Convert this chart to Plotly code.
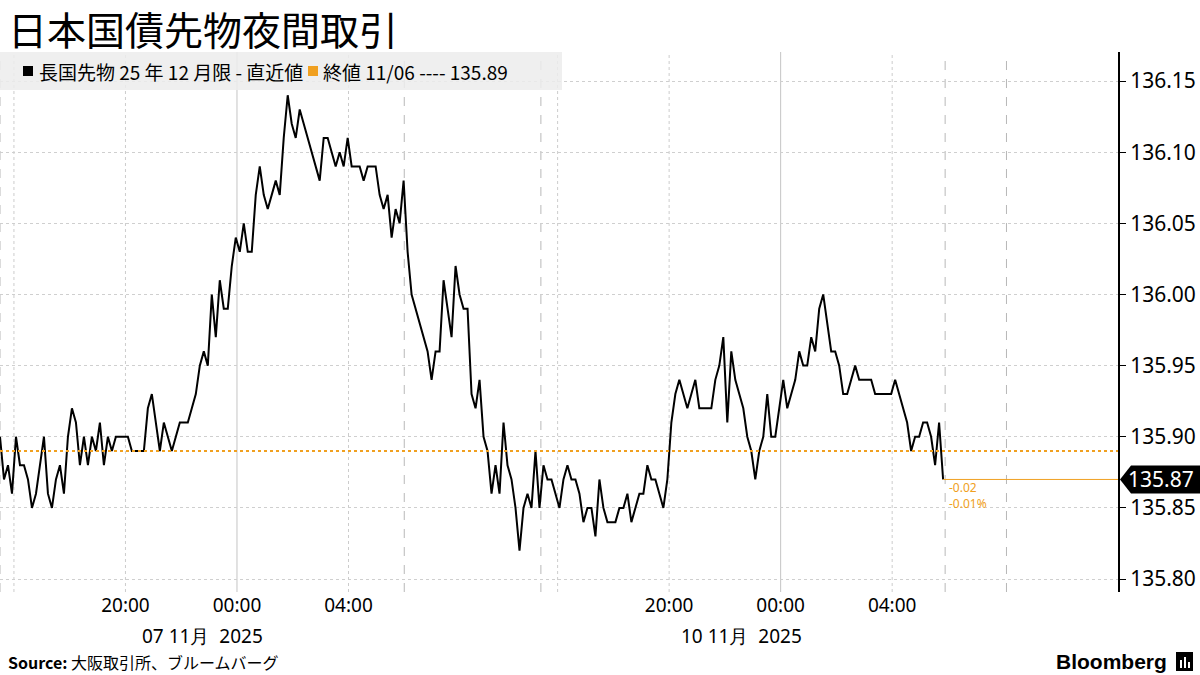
import plotly.graph_objects as go

# ---------------- data ----------------
TITLE = "日本国債先物夜間取引"
SERIES_NAME = "長国先物 25 年 12 月限 - 直近値"
PREV_CLOSE_LABEL = "終値 11/06 ---- 135.89"
PREV_CLOSE = 135.89
SAMPLE_MIN = 8.6  # minutes between samples on the compressed session clock

prices = [
    135.90, 135.87, 135.88, 135.86, 135.90, 135.88, 135.88, 135.87, 135.85, 135.86,
    135.88, 135.90, 135.86, 135.85, 135.87, 135.88, 135.86, 135.90, 135.92, 135.91,
    135.88, 135.90, 135.88, 135.90, 135.89,
    135.91, 135.88, 135.90, 135.89, 135.90, 135.90, 135.90, 135.90, 135.89, 135.89,
    135.89, 135.89, 135.92, 135.93, 135.91, 135.89, 135.91, 135.90, 135.89, 135.90,
    135.91, 135.91, 135.91, 135.92, 135.93,
    135.95, 135.96, 135.95, 136.00, 135.97, 136.01, 135.99, 135.99, 136.02, 136.04,
    136.03, 136.05, 136.03, 136.03, 136.07, 136.09, 136.07, 136.06, 136.07, 136.08,
    136.07, 136.11, 136.14, 136.12, 136.11,
    136.13, 136.12, 136.11, 136.10, 136.09, 136.08, 136.11, 136.11, 136.10, 136.09,
    136.10, 136.09, 136.11, 136.09, 136.09, 136.09, 136.08, 136.09, 136.09, 136.09,
    136.07, 136.06, 136.07, 136.04, 136.06,
    136.05, 136.08, 136.03, 136.00, 135.99, 135.98, 135.97, 135.96, 135.94, 135.96,
    135.96, 136.01, 135.99, 135.97, 136.02, 136.00, 135.99, 135.99, 135.93, 135.92,
    135.94, 135.90, 135.89, 135.86, 135.88,
    135.86, 135.91, 135.88, 135.87, 135.85, 135.82, 135.85, 135.86, 135.85, 135.89,
    135.85, 135.88, 135.87, 135.87, 135.86, 135.85, 135.87, 135.88, 135.87, 135.87,
    135.86, 135.84, 135.85, 135.85, 135.83,
    135.87, 135.85, 135.84, 135.84, 135.84, 135.85, 135.85, 135.86, 135.84, 135.85,
    135.86, 135.86, 135.88, 135.87, 135.87, 135.86, 135.85, 135.87, 135.91, 135.93,
    135.94, 135.93, 135.92, 135.93, 135.94,
    135.92, 135.92, 135.92, 135.92, 135.94, 135.95, 135.97, 135.91, 135.96, 135.94,
    135.93, 135.92, 135.90, 135.89, 135.87, 135.89, 135.90, 135.93, 135.90, 135.90,
    135.92, 135.94, 135.92, 135.93, 135.94,
    135.96, 135.95, 135.95, 135.97, 135.96, 135.99, 136.00, 135.98, 135.96, 135.96,
    135.95, 135.93, 135.93, 135.94, 135.95, 135.94, 135.94, 135.94, 135.94, 135.93,
    135.93, 135.93, 135.93, 135.93, 135.94,
    135.93, 135.92, 135.91, 135.89, 135.90, 135.90, 135.91, 135.91, 135.90, 135.88,
    135.91, 135.87,
]

# compressed session clock (hours)
x_tickvals = [4.5, 8.5, 12.5, 24.0, 28.0, 32.0]
x_ticktext = ["20:00", "00:00", "04:00", "20:00", "00:00", "04:00"]
date_labels = ["07 11月  2025", "10 11月  2025"]
date_label_x = [7.25, 26.6]
dotted_v = [0.5, 4.5, 12.5, 20.0, 24.0, 32.0]
solid_v = [8.5, 28.0]
dashed_v = [0.0, 14.5, 19.4, 33.9, 36.1]
X_MAX = 40.1

y_tickvals = [135.80, 135.85, 135.90, 135.95, 136.00, 136.05, 136.10, 136.15]
Y_RANGE = [135.7909, 136.1704]

# ---------------- figure ----------------
times = [i * SAMPLE_MIN / 60.0 for i in range(len(prices))]
last_x, last_y = times[-1], prices[-1]
change = last_y - PREV_CLOSE
pct = change / PREV_CLOSE * 100

W, H = 1200, 675
ML, MR, MT, MB = 0, 82, 52, 83
PW, PH = W - ML - MR, H - MT - MB


def px_x(px):
    return (px - ML) / PW


def px_y(py):
    return (H - MB - py) / PH


ORANGE = "#f0a020"
FONT = "Noto Sans, sans-serif"
JFONT = "Noto Sans CJK JP, sans-serif"

fig = go.Figure()
fig.add_trace(go.Scatter(x=times, y=prices, mode="lines",
                         line=dict(color="black", width=2), hoverinfo="skip",
                         showlegend=False))

shapes = []
for xv in dotted_v:
    shapes.append(dict(type="line", xref="x", yref="paper", x0=xv, x1=xv, y0=0, y1=1,
                       line=dict(color="#cccccc", width=1, dash="dot"), layer="below"))
for xv in solid_v:
    shapes.append(dict(type="line", xref="x", yref="paper", x0=xv, x1=xv, y0=0, y1=1,
                       line=dict(color="#c4c4c4", width=1), layer="below"))
for xv in dashed_v:
    shapes.append(dict(type="line", xref="x", yref="paper", x0=xv, x1=xv, y0=0, y1=1,
                       line=dict(color="#b8b8b8", width=1, dash="dash"), layer="below"))
# previous close dotted line
shapes.append(dict(type="line", xref="paper", yref="y", x0=0, x1=1, y0=PREV_CLOSE, y1=PREV_CLOSE,
                   line=dict(color=ORANGE, width=2, dash="dot"), layer="above"))
# last value line
shapes.append(dict(type="line", xref="x", yref="y", x0=last_x, x1=X_MAX, y0=last_y, y1=last_y,
                   line=dict(color=ORANGE, width=1)))
# legend background
shapes.append(dict(type="rect", xref="paper", yref="paper", x0=px_x(0), x1=px_x(562),
                   y0=px_y(90), y1=px_y(52), fillcolor="rgba(236,236,236,0.85)",
                   line=dict(width=0), layer="above"))
# legend swatches
shapes.append(dict(type="rect", xref="paper", yref="paper", x0=px_x(23), x1=px_x(33),
                   y0=px_y(76), y1=px_y(66), fillcolor="black", line=dict(width=0)))
shapes.append(dict(type="rect", xref="paper", yref="paper", x0=px_x(308), x1=px_x(318),
                   y0=px_y(76), y1=px_y(66), fillcolor=ORANGE, line=dict(width=0)))
# last value tag
shapes.append(dict(type="path", xref="paper", yref="y", xsizemode="pixel", ysizemode="pixel",
                   xanchor=1.0, yanchor=last_y,
                   path="M 2,0 L 13,-14 L 82,-14 L 82,14 L 13,14 Z",
                   fillcolor="black", line=dict(width=0)))
# bloomberg icon
shapes.append(dict(type="rect", xref="paper", yref="paper", x0=px_x(1176), x1=px_x(1193),
                   y0=px_y(671), y1=px_y(652), fillcolor="black", line=dict(width=0)))
for bx, top in [(1180, 660), (1184, 657), (1188, 662)]:
    shapes.append(dict(type="rect", xref="paper", yref="paper", x0=px_x(bx), x1=px_x(bx + 2),
                       y0=px_y(668), y1=px_y(top), fillcolor="white", line=dict(width=0)))

annotations = [
    dict(text=TITLE, xref="paper", yref="paper", x=px_x(6), y=px_y(28), xanchor="left",
         yanchor="middle", showarrow=False, font=dict(family=JFONT, size=39, color="black")),
    dict(text=SERIES_NAME, xref="paper", yref="paper", x=px_x(37), y=px_y(71),
         xanchor="left", yanchor="middle", showarrow=False,
         font=dict(family=JFONT, size=19, color="black")),
    dict(text=PREV_CLOSE_LABEL, xref="paper", yref="paper", x=px_x(321), y=px_y(71),
         xanchor="left", yanchor="middle", showarrow=False,
         font=dict(family=JFONT, size=19, color="black")),
    dict(text=f"{last_y:.2f}", xref="paper", yref="y", x=px_x(1161), y=last_y,
         xanchor="center", yanchor="middle", showarrow=False,
         font=dict(family=FONT, size=21, color="white")),
    dict(text=f"{change:.2f}", xref="x", yref="y", x=last_x + 0.15, y=last_y - 8 / 1423,
         xanchor="left", yanchor="middle", showarrow=False,
         font=dict(family=FONT, size=12, color=ORANGE)),
    dict(text=f"{pct:.2f}%", xref="x", yref="y", x=last_x + 0.15, y=last_y - 24 / 1423,
         xanchor="left", yanchor="middle", showarrow=False,
         font=dict(family=FONT, size=12, color=ORANGE)),
    dict(text="<b>Source:</b> 大阪取引所、ブルームバーグ", xref="paper", yref="paper",
         x=px_x(6), y=px_y(662), xanchor="left", yanchor="middle", showarrow=False,
         font=dict(family=JFONT, size=16, color="black")),
    dict(text="<b>Bloomberg</b>", xref="paper", yref="paper", x=px_x(1169), y=px_y(661),
         xanchor="right", yanchor="middle", showarrow=False,
         font=dict(family="Liberation Sans, sans-serif", size=21, color="black")),
]
for txt, xv in zip(date_labels, date_label_x):
    annotations.append(dict(text=txt, xref="x", yref="paper", x=xv, y=px_y(636),
                            xanchor="center", yanchor="middle", showarrow=False,
                            font=dict(family=FONT, size=19, color="black")))

fig.update_layout(
    width=W, height=H, margin=dict(l=ML, r=MR, t=MT, b=MB),
    paper_bgcolor="white", plot_bgcolor="white",
    shapes=shapes, annotations=annotations, showlegend=False,
    xaxis=dict(range=[0, X_MAX], tickvals=x_tickvals, ticktext=x_ticktext, showgrid=False,
               zeroline=False, showline=False, ticks="",
               tickfont=dict(family=FONT, size=19, color="black")),
    yaxis=dict(range=Y_RANGE, side="right", tickvals=y_tickvals,
               ticktext=[f"{v:.2f}" for v in y_tickvals], showgrid=True,
               gridcolor="#cfcfcf", griddash="dot", gridwidth=1, zeroline=False,
               showline=True, linecolor="black", linewidth=2, ticks="outside", ticklen=6,
               tickcolor="black", tickfont=dict(family=FONT, size=21, color="black")),
)

fig.write_html("out.html", config={"displayModeBar": False},
               post_script="document.body.style.margin='0';document.body.style.overflow='hidden';")
